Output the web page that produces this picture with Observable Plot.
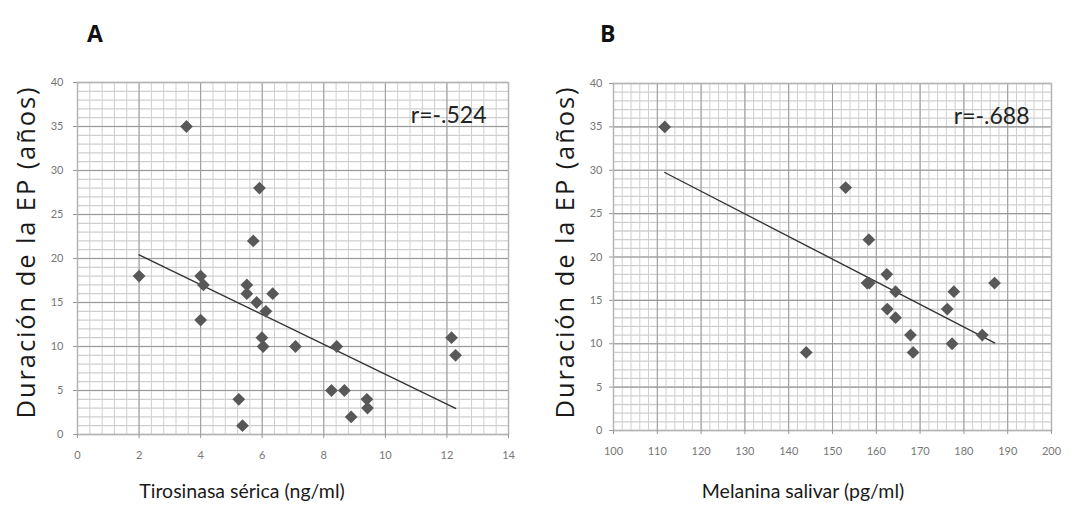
<!DOCTYPE html>
<html>
<head>
<meta charset="utf-8">
<script src="https://cdn.jsdelivr.net/npm/d3@7"></script>
<script src="https://cdn.jsdelivr.net/npm/@observablehq/plot@0.6"></script>
<style>
  html, body { margin: 0; padding: 0; background: #fff; }
  #wrap { position: relative; width: 1072px; height: 518px; overflow: hidden; font-family: Lato, sans-serif; }
  .panel { position: absolute; top: 0; }
  .lbl { position: absolute; color: #111; white-space: nowrap; }
  .ttl { font-family: "Open Sans", sans-serif; font-weight: 700; font-size: 23px; }
  .xt { font-family: Lato, sans-serif; font-size: 19.5px; transform: translate(-50%, -50%); color: #1a1a1a; }
  .yt { font-family: "Open Sans", sans-serif; font-size: 25.5px; letter-spacing: 1.9px; transform: translate(-50%, -50%) rotate(-90deg); color: #1a1a1a; }
</style>
</head>
<body>
<div id="wrap"></div>
<script>
// Panel A: serum tyrosinase (ng/ml) vs. PD duration (years)
const tyrosinase = [3.54, 2.0, 4.0, 4.09, 4.0, 5.24, 5.36, 5.5, 5.5, 5.71, 5.82, 5.91, 6.12, 5.99, 6.03, 6.34, 7.08, 8.42, 8.25, 8.67, 8.89, 9.4, 9.42, 12.15, 12.28];
const durationA  = [35, 18, 18, 17, 13, 4, 1, 17, 16, 22, 15, 28, 14, 11, 10, 16, 10, 10, 5, 5, 2, 4, 3, 11, 9];
// Panel B: salivary melanin (pg/ml) vs. PD duration (years)
const melanin   = [111.7, 144.0, 153.0, 158.3, 157.9, 158.4, 162.4, 164.4, 162.5, 164.4, 167.8, 168.4, 176.2, 177.7, 177.3, 184.2, 187.0];
const durationB = [35, 9, 28, 22, 17, 17, 18, 16, 14, 13, 11, 9, 14, 16, 10, 11, 17];

const xTicksA = [0, 2, 4, 6, 8, 10, 12, 14];
const xTicksB = [100, 110, 120, 130, 140, 150, 160, 170, 180, 190, 200];
const yTicks  = [0, 5, 10, 15, 20, 25, 30, 35, 40];
const rLabelA = "r=-.524";
const rLabelB = "r=-.688";
const titleA = "A", titleB = "B";
const xTitleA = "Tirosinasa sérica (ng/ml)";
const xTitleB = "Melanina salivar (pg/ml)";
const yTitle = "Duración de la EP (años)";

const dataA = tyrosinase.map((x, i) => ({x, y: durationA[i]}));
const dataB = melanin.map((x, i) => ({x, y: durationB[i]}));

function panel({data, xDomain, xTicks, minorX, ml, mr, mt, mb, ypad, rLabel}) {
  const minorY = d3.range(0, 40.001, 1);
  return Plot.plot({
    width: 536, height: 518,
    marginLeft: ml, marginRight: mr, marginTop: mt, marginBottom: mb,
    x: {domain: xDomain},
    y: {domain: [0, 40]},
    style: {fontFamily: "Lato, sans-serif", fontSize: "11px", color: "#777", background: "transparent"},
    marks: [
      Plot.gridX(minorX, {stroke: "#cfcfcf", strokeOpacity: 1, strokeWidth: 1}),
      Plot.gridY(minorY, {stroke: "#cfcfcf", strokeOpacity: 1, strokeWidth: 1.3}),
      Plot.gridX(xTicks, {stroke: "#9a9a9a", strokeOpacity: 1}),
      Plot.gridY(yTicks, {stroke: "#9a9a9a", strokeOpacity: 1, strokeWidth: 1.2}),
      Plot.frame({stroke: "#b5b5b5", strokeWidth: 1.5}),
      Plot.axisX(xTicks, {tickSize: 4, tickPadding: 13, label: null, stroke: "#999", fill: "#777"}),
      Plot.axisY(yTicks, {tickSize: 4, tickPadding: ypad, label: null, stroke: "#999", fill: "#777"}),
      Plot.linearRegressionY(data, {x: "x", y: "y", ci: 0, stroke: "#333", strokeWidth: 1.4}),
      Plot.dot(data, {x: "x", y: "y", symbol: "square", rotate: 45, r: 5.1, fill: "#585858", stroke: "none"}),
      Plot.text([rLabel], {frameAnchor: "top-right", dx: -22, dy: 33, fontSize: 23, fill: "#222", fontFamily: "Lato, sans-serif", textAnchor: "end", lineAnchor: "middle"})
    ]
  });
}

const wrap = document.getElementById("wrap");

const pA = panel({data: dataA, xDomain: [0, 14], xTicks: xTicksA, minorX: d3.range(0, 14.001, 0.4),
  ml: 77, mr: 28, mt: 82, mb: 84, ypad: 10, rLabel: rLabelA});
pA.classList.add("panel"); pA.style.left = "0px";
wrap.appendChild(pA);

const pB = panel({data: dataB, xDomain: [100, 200], xTicks: xTicksB, minorX: d3.range(100, 200.001, 2),
  ml: 77, mr: 21, mt: 83, mb: 88, ypad: 7, rLabel: rLabelB});
pB.classList.add("panel"); pB.style.left = "536px";
wrap.appendChild(pB);

function addLabel(text, cls, left, top) {
  const d = document.createElement("div");
  d.className = "lbl " + cls;
  d.textContent = text;
  d.style.left = left + "px";
  d.style.top = top + "px";
  wrap.appendChild(d);
}
addLabel(titleA, "ttl", 87, 17);
addLabel(titleB, "ttl", 600, 17);
addLabel(xTitleA, "xt", 242, 490);
addLabel(xTitleB, "xt", 803, 490);
addLabel(yTitle, "yt", 25, 252);
addLabel(yTitle, "yt", 564, 252);
</script>
</body>
</html>
